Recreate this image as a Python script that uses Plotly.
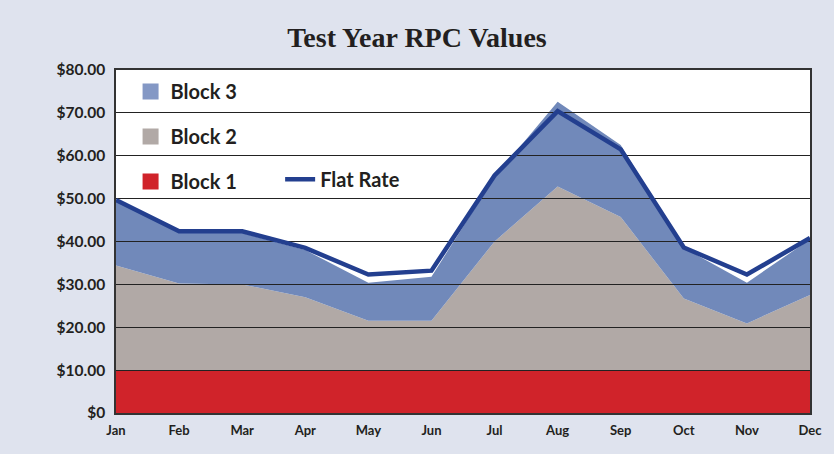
import plotly.graph_objects as go

months = ["Jan", "Feb", "Mar", "Apr", "May", "Jun", "Jul", "Aug", "Sep", "Oct", "Nov", "Dec"]
block1 = [10, 10, 10, 10, 10, 10, 10, 10, 10, 10, 10, 10]
block2 = [24.4, 20.2, 20.0, 17.0, 11.5, 11.5, 30.0, 42.8, 35.7, 16.7, 10.9, 17.5]
block3 = [15.1, 11.8, 12.0, 11.0, 8.9, 10.3, 15.0, 19.8, 16.8, 11.8, 9.5, 13.0]
flat_rate = [49.7, 42.4, 42.4, 38.5, 32.3, 33.2, 55.4, 70.4, 61.5, 38.6, 32.3, 40.8]
y_ticks = [0, 10, 20, 30, 40, 50, 60, 70, 80]
y_ticktext = ["$0", "$10.00", "$20.00", "$30.00", "$40.00", "$50.00", "$60.00", "$70.00", "$80.00"]

C1 = "#d0232a"
C2 = "#b1a9a6"
C3 = "#7189ba"
C3_LEG = "#8498c5"
CF = "#233f8f"
BG = "#dfe3ee"
FONT = "Lato"

fig = go.Figure()

for name, vals, col in [("Block 1", block1, C1), ("Block 2", block2, C2), ("Block 3", block3, C3)]:
    fig.add_trace(go.Scatter(
        x=months, y=vals, name=name, stackgroup="one", mode="none",
        fillcolor=col, line=dict(width=0), showlegend=False, hoverinfo="skip",
        xaxis="x", yaxis="y",
    ))

# legend-only swatches
for name, col in [("Block 3", C3_LEG), ("Block 2", C2), ("Block 1", C1)]:
    fig.add_trace(go.Scatter(
        x=[None], y=[None], name=name, mode="markers",
        marker=dict(symbol="square", size=20, color=col),
        legend="legend", legendgroup=name, showlegend=True,
    ))

fig.add_trace(go.Scatter(
    x=months, y=flat_rate, name="Flat Rate", mode="lines",
    line=dict(color=CF, width=4.5),
    xaxis="x2", yaxis="y2", legend="legend2", showlegend=True,
))

# white plotting area drawn beneath both overlapping subplots
fig.add_shape(type="rect", xref="paper", yref="paper", x0=0, x1=1, y0=0, y1=1,
              fillcolor="white", line=dict(width=0), layer="below")

fig.update_layout(
    width=834, height=454,
    paper_bgcolor=BG, plot_bgcolor="rgba(0,0,0,0)",
    margin=dict(l=116, r=24, t=70, b=41, autoexpand=False),
    font=dict(family=FONT, color="#231f20"),
    title=dict(text="<b>Test Year RPC Values</b>", x=0.5, xanchor="center", y=0.917, yanchor="middle",
               font=dict(family="Liberation Serif", size=28, color="#231f20")),
    xaxis=dict(domain=[0, 1], anchor="y", type="category", categoryorder="array", categoryarray=months,
               range=[0, 11], showgrid=False, showline=True, linecolor="#333", linewidth=1.5, mirror=True,
               automargin=False,
               ticks="", tickfont=dict(family=FONT, size=13, color="#231f20", weight="bold"), ticklabelstandoff=5),
    yaxis=dict(domain=[0, 1], anchor="x", range=[0, 80], showgrid=False, showline=True, linecolor="#333",
               linewidth=1.5, mirror=True, tickvals=y_ticks, ticktext=y_ticktext, ticks="", automargin=False,
               tickfont=dict(family=FONT, size=15.5, color="#231f20", weight="bold"), ticklabelstandoff=6),
    xaxis2=dict(domain=[0, 1], anchor="y2", type="category", categoryorder="array", categoryarray=months,
                range=[0, 11], visible=False, showgrid=False, automargin=False),
    yaxis2=dict(domain=[0, 1], anchor="x2", range=[0, 80], showgrid=True, gridcolor="#222", gridwidth=1.3,
                tickvals=y_ticks, showticklabels=False, zeroline=False, showline=False, ticks="",
                automargin=False),
    legend=dict(x=0.021, y=0.994, xanchor="left", yanchor="top", bgcolor="rgba(0,0,0,0)",
                font=dict(family=FONT, size=20, color="#231f20", weight="bold"),
                tracegroupgap=16, itemsizing="trace", traceorder="grouped"),
    legend2=dict(x=0.2365, y=0.738, xanchor="left", yanchor="top", bgcolor="rgba(0,0,0,0)",
                 font=dict(family=FONT, size=20, color="#231f20", weight="bold")),
    showlegend=True,
)

fig.write_html("out.html", config={"displayModeBar": False},
               post_script="document.body.style.margin='0';")
